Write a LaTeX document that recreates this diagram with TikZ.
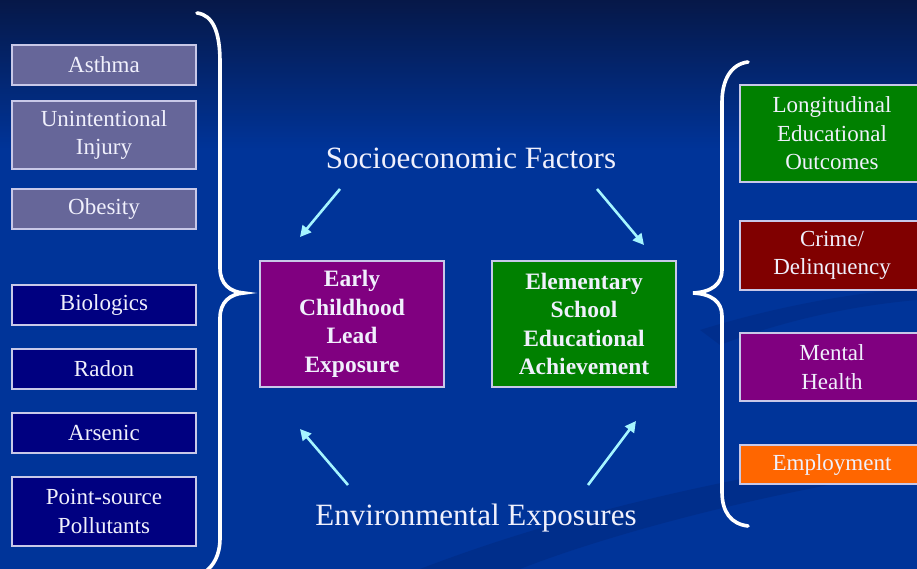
\documentclass[tikz,border=0pt]{standalone}
\usepackage{fontspec}
\setmainfont{Liberation Serif}
\usetikzlibrary{arrows.meta}

\definecolor{bgblue}{RGB}{0,52,153}
\definecolor{bgtop}{RGB}{6,24,72}
\definecolor{bgdark}{RGB}{0,42,130}
\definecolor{hazard}{RGB}{102,102,153}
\definecolor{exposure}{RGB}{0,0,128}
\definecolor{leadpurple}{RGB}{128,0,128}
\definecolor{schoolgreen}{RGB}{0,128,0}
\definecolor{crimered}{RGB}{128,0,0}
\definecolor{joborange}{RGB}{255,102,0}
\definecolor{arrowcyan}{RGB}{165,245,255}
\definecolor{boxline}{RGB}{200,200,232}
\definecolor{lighttext}{RGB}{240,240,252}

\tikzset{
  factorbox/.style={draw=boxline, line width=1.2pt, text=lighttext, align=center,
    minimum width=184pt, inner sep=0pt, font=\fontsize{23}{28.5}\selectfont},
  mainbox/.style={draw=boxline, line width=1.2pt, text=lighttext, align=center,
    minimum width=184pt, minimum height=126pt, inner sep=0pt,
    font=\fontsize{23.5}{28.5}\selectfont\bfseries},
  caption/.style={text=lighttext, font=\fontsize{31}{35}\selectfont},
  flow/.style={arrowcyan, line width=2.6pt, -{Triangle[length=11pt,width=11pt]}},
  bracket/.style={white, line width=3.6pt, line cap=round}
}

\begin{document}
\begin{tikzpicture}[x=1pt,y=-1pt]
  \useasboundingbox (0,0) rectangle (917,569);
  \clip (0,0) rectangle (917,569);
  % background
  \fill[bgblue] (0,0) rectangle (917,569);
  \shade[top color=bgtop, bottom color=bgblue] (0,0) rectangle (917,150);
  \fill[bgdark, opacity=0.6] (420,569) .. controls (600,500) and (780,470) .. (917,448)
    -- (917,470) .. controls (780,490) and (620,530) .. (520,569) -- cycle;
  \fill[bgdark, opacity=0.5] (700,330) .. controls (780,305) and (860,292) .. (917,288)
    -- (917,300) .. controls (860,305) and (790,318) .. (720,345) -- cycle;

  % left column
  \node[factorbox, fill=hazard, minimum height=40pt] (asthma) at (104,65) {Asthma};
  \node[factorbox, fill=hazard, minimum height=68pt] (injury) at (104,135) {Unintentional\\Injury};
  \node[factorbox, fill=hazard, minimum height=40pt] (obesity) at (104,209) {Obesity};
  \node[factorbox, fill=exposure, minimum height=40pt] (biologics) at (104,305) {Biologics};
  \node[factorbox, fill=exposure, minimum height=40pt] (radon) at (104,369) {Radon};
  \node[factorbox, fill=exposure, minimum height=40pt] (arsenic) at (104,433) {Arsenic};
  \node[factorbox, fill=exposure, minimum height=69pt] (pollutants) at (104,511.5) {Point-source\\Pollutants};

  % braces
  \draw[bracket] (197,13) .. controls (213,15) and (220,32) .. (220,62) -- (220,268)
    .. controls (220,284) and (230,292) .. (244,293)
    .. controls (230,294) and (220,302) .. (220,318) -- (220,538)
    .. controls (220,556) and (213,566) .. (205,572);
  \draw[bracket] (748,62) .. controls (731,64) and (722,80) .. (722,102) -- (722,270)
    .. controls (722,284) and (712,292) .. (693,293)
    .. controls (712,294) and (722,302) .. (722,316) -- (722,492)
    .. controls (722,512) and (731,524) .. (748,526);

  % centre
  \node[mainbox, fill=leadpurple] (lead) at (352,324) {Early\\Childhood\\Lead\\Exposure};
  \node[mainbox, fill=schoolgreen] (school) at (584,324) {Elementary\\School\\Educational\\Achievement};
  \node[caption] (socio) at (471,158) {Socioeconomic Factors};
  \node[caption] (enviro) at (476,518) {Environmental Exposures};

  \coordinate (s1) at (340,189);
  \coordinate (s1end) at (300,237);
  \coordinate (s2) at (597,189);
  \coordinate (s2end) at (644,245);
  \coordinate (e1) at (348,485);
  \coordinate (e1end) at (300,429);
  \coordinate (e2) at (588,485);
  \coordinate (e2end) at (636,421);
  \draw[flow] (s1) -- (s1end);
  \draw[flow] (s2) -- (s2end);
  \draw[flow] (e1) -- (e1end);
  \draw[flow] (e2) -- (e2end);

  % right column
  \node[factorbox, fill=schoolgreen, minimum height=97pt] (longitudinal) at (832,133.5) {Longitudinal\\Educational\\Outcomes};
  \node[factorbox, fill=crimered, minimum height=69pt] (crime) at (832,255.5) {Crime/\\Delinquency};
  \node[factorbox, fill=leadpurple, minimum height=68pt] (mental) at (832,367) {Mental\\Health};
  \node[factorbox, fill=joborange, minimum height=39pt] (employment) at (832,464.5) {Employment};
\end{tikzpicture}
\end{document}
